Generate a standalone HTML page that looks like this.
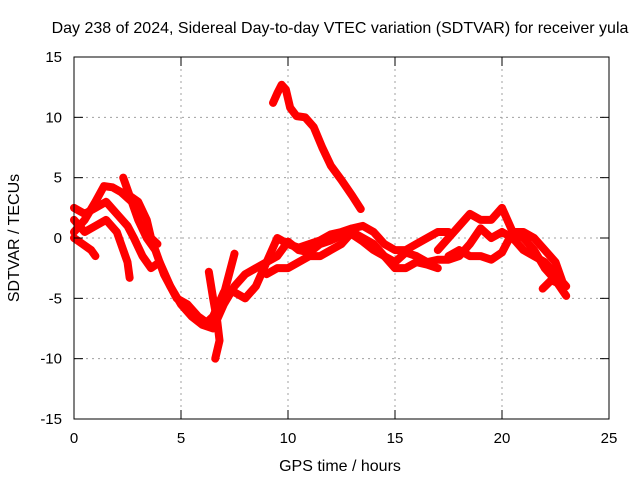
<!DOCTYPE html>
<html><head><meta charset="utf-8"><style>
body{margin:0;background:#fff;}
svg text{font-family:"Liberation Sans",sans-serif;font-size:15px;fill:#000;}
svg text.big{font-size:16px;}
</style></head><body>
<svg id="chart" width="640" height="480">
<text class="big" x="340" y="33" text-anchor="middle">Day 238 of 2024, Sidereal Day-to-day VTEC variation (SDTVAR) for receiver yula</text>
<text class="big" x="340" y="471" text-anchor="middle">GPS time / hours</text>
<text class="big" transform="translate(19,238) rotate(-90)" text-anchor="middle">SDTVAR / TECUs</text>
<g id="grid"></g><g id="series"></g>
<rect x="74" y="57" width="535" height="362" fill="none" stroke="#000" stroke-width="1"/>
<g id="ticks"></g>
</svg>
<script>
const xTicks=[0,5,10,15,20,25];
const yTicks=[-15,-10,-5,0,5,10,15];
const seriesA=[[9.3,11.2],[9.5,12],[9.7,12.7],[9.9,12.3],[10.1,10.8],[10.4,10.1],[10.8,10],[11.2,9.2],[11.6,7.5],[12,6],[12.5,4.8],[13,3.5],[13.4,2.4]];
const seriesB=[[0,0.5],[0.5,1.5],[1,3],[1.4,4.3],[1.8,4.2],[2.2,3.8],[2.7,3],[3,1.5],[3.4,0],[3.8,-1],[4.2,-3],[4.8,-5],[5.3,-5.5],[5.8,-6.5],[6.2,-7],[6.5,-6.5],[7,-4.5],[7.5,-4.5],[8,-5],[8.5,-4],[9,-2],[9.5,0],[10,-0.5],[10.5,-0.8],[11,-0.5],[11.5,-0.2],[12,0.3],[12.5,0.5],[13,0.8],[13.5,1],[14,0.5],[14.5,-0.5],[15,-1],[15.5,-1],[16,-0.5],[16.5,0],[17,0.5],[17.5,0.5]];
const seriesC=[[0,2.5],[0.5,2],[1,2.5],[1.5,3],[2,2],[2.5,1],[2.8,0],[3.2,-1.5],[3.6,-2.5],[4,-2],[4.5,-4],[5,-5.5],[5.5,-6.5],[6,-7.2],[6.5,-7.5],[7,-5.5],[7.5,-4],[8,-3],[8.5,-2.5],[9,-2],[9.5,-1.5],[10,-0.3],[10.5,-1],[11,-1.2],[11.5,-0.5],[12,-0.2],[12.5,0.2],[13,0.3],[13.5,-0.3],[14,-1],[14.5,-1.5],[15,-2],[15.5,-1.2],[16,-1.5],[16.5,-2],[17,-1.8],[17.5,-1.8],[18,-1.5],[18.5,-0.5],[19,0.8],[19.5,0],[20,0.5],[20.5,0],[21,-1],[21.5,-1.5],[22,-2],[22.5,-3],[23,-4]];
const seriesD=[[0,1.5],[0.5,0.5],[1,1],[1.5,1.5],[2,0.5],[2.3,-1],[2.5,-2],[2.6,-3.3]];
const seriesE=[[0,0],[0.4,-0.5],[0.8,-1],[1,-1.5]];
const seriesF=[[2.3,5],[2.6,3.5],[3,3],[3.4,1.5],[3.6,0],[3.9,-0.5]];
const seriesG=[[6.3,-2.8],[6.5,-5],[6.7,-7],[6.8,-8.5],[6.6,-10]];
const seriesH=[[6.8,-6],[7.1,-4],[7.5,-1.3]];
const seriesI=[[9,-3],[9.5,-2.5],[10,-2.5],[10.5,-2],[11,-1.5],[11.5,-1.5],[12,-1],[12.5,-0.5],[13,0.5],[13.5,0],[14,-0.5],[14.5,-1.5],[15,-2.5],[15.5,-2.5],[16,-2],[16.5,-2.2],[17,-2.5]];
const seriesJ=[[17.5,-1.5],[18,-1],[18.5,-1.5],[19,-1.5],[19.5,-1.8],[20,-1.2],[20.5,0.5],[21,0],[21.5,-1],[22,-2.5],[22.5,-3.5],[23,-4.8]];
const seriesK=[[17,-1],[17.5,0],[18,1],[18.5,2],[19,1.5],[19.5,1.5],[20,2.5],[20.5,0.5],[21,0.5],[21.5,0],[22,-1],[22.5,-2],[22.8,-3.5]];
const seriesL=[[21.9,-4.2],[22.3,-3.5],[22.7,-3.8]];
const allSeries=[seriesA,seriesB,seriesC,seriesD,seriesE,seriesF,seriesG,seriesH,seriesI,seriesJ,seriesK,seriesL];
const X=h=>74+h*535/25, Y=v=>238-v*362/30;
const NS="http://www.w3.org/2000/svg";
const grid=document.getElementById('grid'),ticks=document.getElementById('ticks'),sg=document.getElementById('series');
function mk(tag,attrs,parent){const e=document.createElementNS(NS,tag);for(const k in attrs)e.setAttribute(k,attrs[k]);parent.appendChild(e);return e;}
xTicks.forEach(t=>{const x=X(t);
 if(t>0&&t<25){const g=mk('line',{x1:x,x2:x,y1:57,y2:419,stroke:'#a0a0a0','stroke-dasharray':'2,4'},grid);
 
 }
 mk('line',{x1:x,x2:x,y1:419,y2:410,stroke:'#000'},ticks);mk('line',{x1:x,x2:x,y1:57,y2:66,stroke:'#000'},ticks);
 const l=mk('text',{x:x,y:443,'text-anchor':'middle'},ticks);l.textContent=t;
 
 });
yTicks.forEach(t=>{const y=Y(t);
 if(t>-15&&t<15){const g=mk('line',{x1:74,x2:609,y1:y,y2:y,stroke:'#a0a0a0','stroke-dasharray':'2,4'},grid);
 
 }
 mk('line',{x1:74,x2:83,y1:y,y2:y,stroke:'#000'},ticks);mk('line',{x1:600,x2:609,y1:y,y2:y,stroke:'#000'},ticks);
 const l=mk('text',{x:62,y:y+5,'text-anchor':'end'},ticks);l.textContent=t;
 
 });
allSeries.forEach(s=>{const p=mk('polyline',{points:s.map(d=>X(d[0])+','+Y(d[1])).join(' '),fill:'none',stroke:'#ff0000','stroke-width':8,'stroke-linejoin':'round','stroke-linecap':'round'},sg);
 
 });
</script>
</body></html>
